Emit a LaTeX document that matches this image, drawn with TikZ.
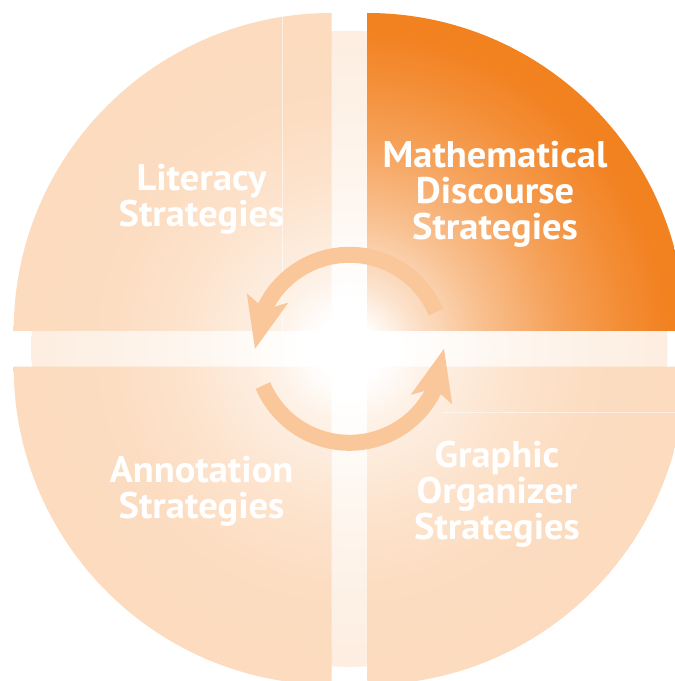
\documentclass[tikz,border=0pt]{standalone}
\usepackage{fontspec}
\newfontfamily\labfont[FakeStretch=1.04]{PT Sans}
\definecolor{peach}{RGB}{252,219,190}
\definecolor{orangeq}{RGB}{242,129,32}
\definecolor{arrowc}{RGB}{250,199,155}
\definecolor{bandc}{RGB}{253,238,225}
\pgfdeclareradialshading{peachshade}{\pgfpoint{0bp}{0bp}}{color(0bp)=(white); color(2bp)=(white); color(5bp)=(peach!40!white); color(10bp)=(peach!75!white); color(15bp)=(peach!95!white); color(20bp)=(peach); color(50bp)=(peach)}
\pgfdeclareradialshading{orangeshade}{\pgfpoint{0bp}{0bp}}{color(0bp)=(white); color(1.5bp)=(white); color(4bp)=(orangeq!22!white); color(8bp)=(orangeq!48!white); color(13bp)=(orangeq!74!white); color(17bp)=(orangeq!90!white); color(20bp)=(orangeq); color(50bp)=(orangeq)}
\pgfdeclareradialshading{bandshade}{\pgfpoint{0bp}{0bp}}{color(0bp)=(white); color(3bp)=(white); color(10bp)=(bandc!55!white); color(19bp)=(bandc); color(50bp)=(bandc)}
\tikzset{
  lab/.style={text=white, align=center, inner sep=0pt,
    font=\labfont\bfseries\fontsize{37}{36}\selectfont},
  arrowbody/.style={draw=arrowc, line width=16pt},
  arrowtip/.style={fill=arrowc},
  seam/.style={draw=white, opacity=0.55, line width=0.8pt}
}
\begin{document}
\begin{tikzpicture}[x=1pt,y=1pt]
\useasboundingbox (0,0) rectangle (675,681);
\fill[white] (0,0) rectangle (675,681);
\coordinate (C) at (349.5,332.2);
\coordinate (A) at (331.7,350);
\coordinate (B) at (367.3,350);
\coordinate (D) at (331.7,314.3);
\coordinate (E) at (367.3,314.3);
% background disc (pale bands)
\begin{scope}
  \clip (C) circle (318);
  \shade[shading=bandshade] ([shift={(-400,-400)}]C) rectangle ([shift={(400,400)}]C);
\end{scope}
% top-left
\begin{scope}
  \clip (A) -- ++(-318,0) arc[start angle=180,end angle=90,radius=318] -- cycle;
  \shade[shading=peachshade] ([shift={(-400,-400)}]C) rectangle ([shift={(400,400)}]C);
\end{scope}
% top-right
\begin{scope}
  \clip (B) -- ++(0,318) arc[start angle=90,end angle=0,radius=318] -- cycle;
  \shade[shading=orangeshade] ([shift={(-400,-400)}]C) rectangle ([shift={(400,400)}]C);
\end{scope}
% bottom-left
\begin{scope}
  \clip (D) -- ++(-318,0) arc[start angle=180,end angle=270,radius=318] -- cycle;
  \shade[shading=peachshade] ([shift={(-400,-400)}]C) rectangle ([shift={(400,400)}]C);
\end{scope}
% bottom-right
\begin{scope}
  \clip (E) -- ++(0,-318) arc[start angle=270,end angle=360,radius=318] -- cycle;
  \shade[shading=peachshade] ([shift={(-400,-400)}]C) rectangle ([shift={(400,400)}]C);
\end{scope}
% faint seams
\draw[seam] (282,664) -- (282,350);
\draw[seam] (443,268.5) -- (675,268.5);
% cycle arrows
\draw[arrowbody] ([shift={(23:94)}]C) arc[start angle=23,end angle=156,radius=94];
\fill[arrowtip] ([shift={(151.6:116.8)}]C) -- ([shift={(180:94.5)}]C) -- ([shift={(143:76.6)}]C) -- ([shift={(155:93.3)}]C) -- cycle;
\draw[arrowbody] ([shift={(203:94)}]C) arc[start angle=203,end angle=336,radius=94];
\fill[arrowtip] ([shift={(331.6:116.8)}]C) -- ([shift={(0:94.5)}]C) -- ([shift={(323:76.6)}]C) -- ([shift={(335:93.3)}]C) -- cycle;
% labels (anchor base = baseline of last line)
\node[lab, anchor=base] (lit) at (201.5,454) {Literacy\\Strategies};
\node[lab, anchor=base] (math) at (495,441) {Mathematical\\Discourse\\Strategies};
\node[lab, anchor=base] (ann) at (201.5,162.7) {Annotation\\Strategies};
\node[lab, anchor=base] (gra) at (497,141) {Graphic\\Organizer\\Strategies};
\end{tikzpicture}
\end{document}
